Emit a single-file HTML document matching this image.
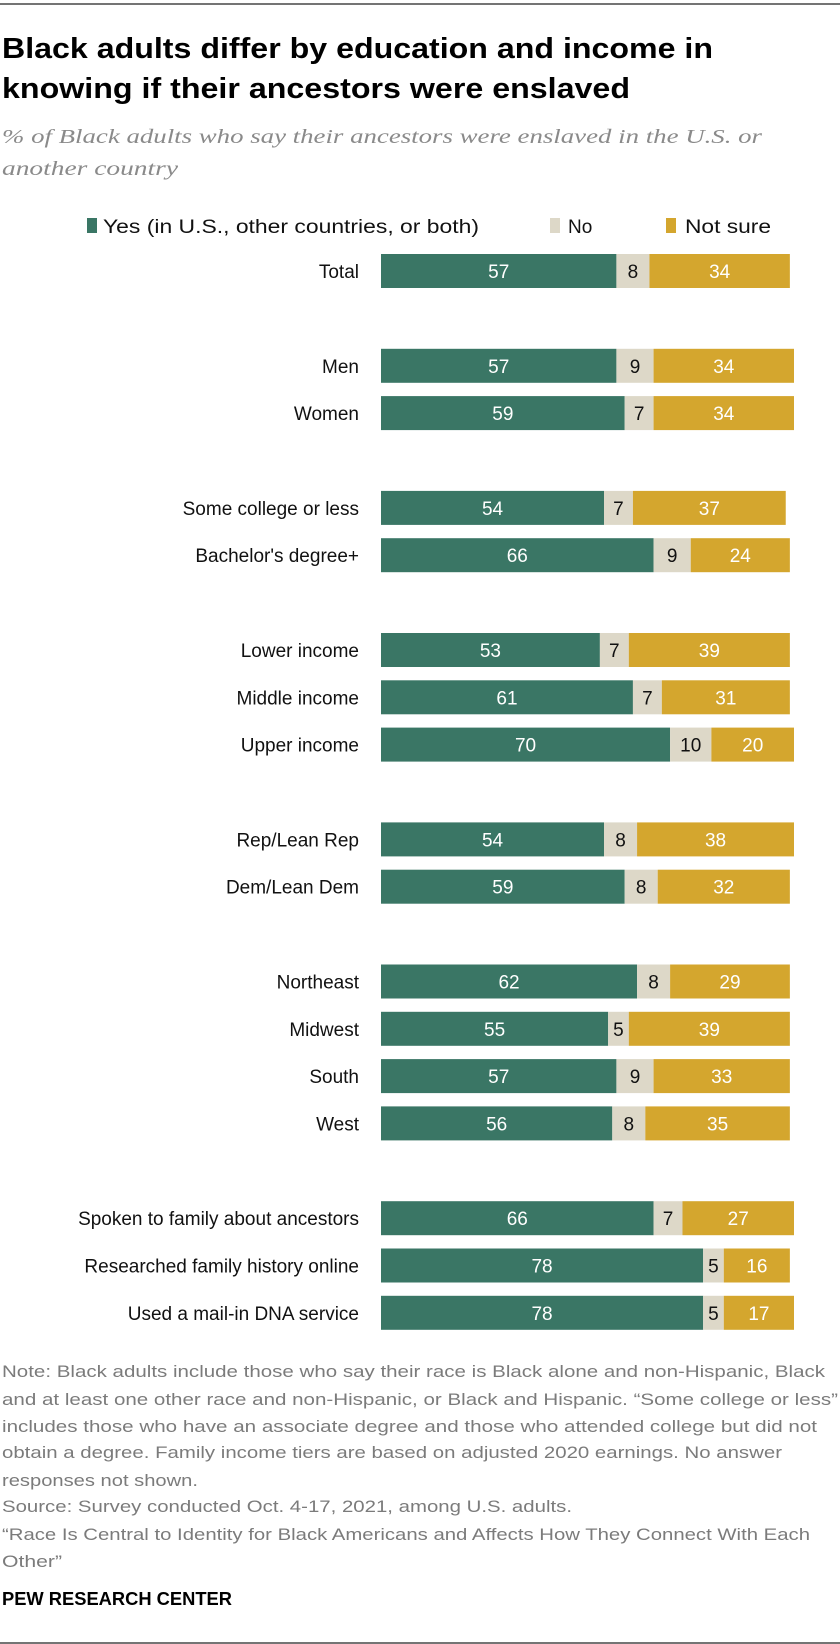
<!DOCTYPE html>
<html><head><meta charset="utf-8"><style>
html,body{margin:0;padding:0;background:#fff}
svg{display:block}
text{font-family:"Liberation Sans",sans-serif}
</style></head><body>
<svg id="chart" width="840" height="1644" viewBox="0 0 840 1644" xmlns="http://www.w3.org/2000/svg">
<line x1="0" y1="4" x2="840" y2="4" stroke="#222" stroke-width="1.2"/>
<g font-weight="bold" font-size="29" fill="#000">
<text x="2" y="58" textLength="711" lengthAdjust="spacingAndGlyphs">Black adults differ by education and income in</text>
<text x="2" y="98" textLength="628" lengthAdjust="spacingAndGlyphs">knowing if their ancestors were enslaved</text>
</g>
<g font-style="italic" font-size="20" fill="#8a8a8a" style="font-family:'Liberation Serif',serif">
<text x="2" y="143" textLength="760" lengthAdjust="spacingAndGlyphs" style="font-family:'Liberation Serif',serif">% of Black adults who say their ancestors were enslaved in the U.S. or</text>
<text x="2" y="175" textLength="176" lengthAdjust="spacingAndGlyphs" style="font-family:'Liberation Serif',serif">another country</text>
</g>
<g font-size="19" fill="#111">
<g><rect x="87" y="218" width="10" height="15" fill="#3a7665"/><text x="103" y="233" textLength="376" lengthAdjust="spacingAndGlyphs">Yes (in U.S., other countries, or both)</text></g>
<g><rect x="550" y="218" width="10" height="15" fill="#ddd8c8"/><text x="568" y="233">No</text></g>
<g><rect x="666" y="218" width="10" height="15" fill="#d4a62e"/><text x="685" y="233" textLength="86" lengthAdjust="spacingAndGlyphs">Not sure</text></g>
</g>
<g id="bars"></g>
<g font-size="17" fill="#7b7b7b">
<text x="2" y="1377" textLength="823" lengthAdjust="spacingAndGlyphs">Note: Black adults include those who say their race is Black alone and non-Hispanic, Black</text>
<text x="2" y="1405" textLength="836" lengthAdjust="spacingAndGlyphs">and at least one other race and non-Hispanic, or Black and Hispanic. “Some college or less”</text>
<text x="2" y="1432" textLength="815" lengthAdjust="spacingAndGlyphs">includes those who have an associate degree and those who attended college but did not</text>
<text x="2" y="1458" textLength="780" lengthAdjust="spacingAndGlyphs">obtain a degree. Family income tiers are based on adjusted 2020 earnings. No answer</text>
<text x="2" y="1486" textLength="196" lengthAdjust="spacingAndGlyphs">responses not shown.</text>
<text x="2" y="1512" textLength="570" lengthAdjust="spacingAndGlyphs">Source: Survey conducted Oct. 4-17, 2021, among U.S. adults.</text>
<text x="2" y="1540" textLength="808" lengthAdjust="spacingAndGlyphs">“Race Is Central to Identity for Black Americans and Affects How They Connect With Each</text>
<text x="2" y="1567" textLength="60" lengthAdjust="spacingAndGlyphs">Other”</text>
</g>
<text x="2" y="1605" font-size="18" font-weight="bold" fill="#000" textLength="230" lengthAdjust="spacingAndGlyphs">PEW RESEARCH CENTER</text>
<line x1="0" y1="1643" x2="840" y2="1643" stroke="#222" stroke-width="1.2"/>
</svg>
<script>
const categories = ["Total","Men","Women","Some college or less","Bachelor's degree+","Lower income","Middle income","Upper income","Rep/Lean Rep","Dem/Lean Dem","Northeast","Midwest","South","West","Spoken to family about ancestors","Researched family history online","Used a mail-in DNA service"];
const yesValues = [57,57,59,54,66,53,61,70,54,59,62,55,57,56,66,78,78];
const noValues = [8,9,7,7,9,7,7,10,8,8,8,5,9,8,7,5,5];
const notSureValues = [34,34,34,37,24,39,31,20,38,32,29,39,33,35,27,16,17];
const groupIds = [0,1,1,2,2,3,3,3,4,4,5,5,5,5,6,6,6];

const NS = "http://www.w3.org/2000/svg";
const x0 = 381, unit = 4.13, barH = 34;
function xScale(v){ return v * unit; }
function yScale(i){ return 254 + i * 47.3 + groupIds[i] * 47.5; }
const g = document.getElementById('bars');
function mk(tag, attrs, parent){ const e = document.createElementNS(NS, tag); for (const k in attrs) e.setAttribute(k, attrs[k]); parent.appendChild(e); return e; }
const segColors = ["#3a7665","#ddd8c8","#d4a62e"];
const segText = ["#fff","#111","#fff"];
const segNames = ["yes","no","not-sure"];
categories.forEach((cat, i) => {
  const y = yScale(i);
  const row = mk('g', {}, g);
  
  
  const lbl = mk('text', {x: 359, y: y + barH/2 + 7, 'text-anchor': 'end', 'font-size': 19, fill: '#111'}, row);
  lbl.textContent = cat;
  
  
  const vals = [yesValues[i], noValues[i], notSureValues[i]];
  let cx = x0;
  vals.forEach((v, s) => {
    const w = xScale(v);
    const r = mk('rect', {x: cx, y: y, width: w, height: barH, fill: segColors[s]}, row);
    
    
    const t = mk('text', {x: cx + w/2, y: y + barH/2 + 7, 'text-anchor': 'middle', 'font-size': 19, fill: segText[s]}, row);
    t.textContent = v;
    
    
    cx += w;
  });
});
</script>
</body></html>
